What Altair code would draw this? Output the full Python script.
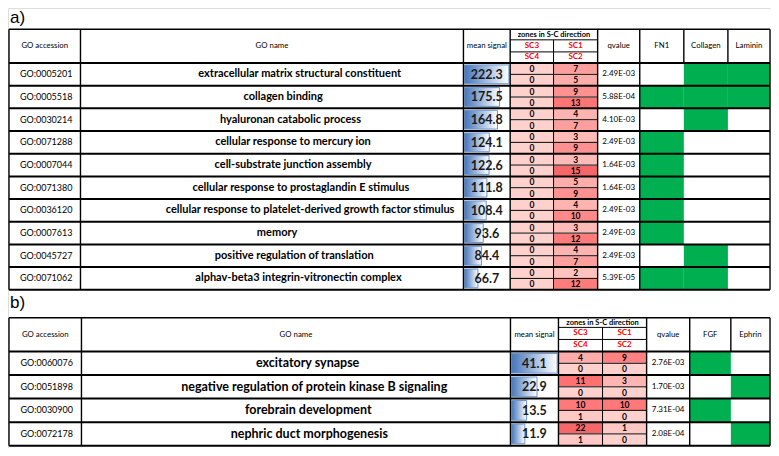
import altair as alt
import pandas as pd

# ------------------------------------------------------------------ data
# panel a)
a_acc = ["GO:0005201", "GO:0005518", "GO:0030214", "GO:0071288", "GO:0007044",
         "GO:0071380", "GO:0036120", "GO:0007613", "GO:0045727", "GO:0071062"]
a_name = ["extracellular matrix structural constituent",
          "collagen binding",
          "hyaluronan catabolic process",
          "cellular response to mercury ion",
          "cell-substrate junction assembly",
          "cellular response to prostaglandin E stimulus",
          "cellular response to platelet-derived growth factor stimulus",
          "memory",
          "positive regulation of translation",
          "alphav-beta3 integrin-vitronectin complex"]
a_mean = [222.3, 175.5, 164.8, 124.1, 122.6, 111.8, 108.4, 93.6, 84.4, 66.7]
a_sc3 = [0, 0, 0, 0, 0, 0, 0, 0, 0, 0]
a_sc1 = [7, 9, 4, 3, 3, 5, 4, 3, 4, 2]
a_sc4 = [0, 0, 0, 0, 0, 0, 0, 0, 0, 0]
a_sc2 = [5, 13, 7, 9, 15, 9, 10, 12, 7, 12]
a_q = ["2.49E-03", "5.88E-04", "4.10E-03", "2.49E-03", "1.64E-03",
       "1.64E-03", "2.49E-03", "2.49E-03", "2.49E-03", "5.39E-05"]
a_paths = ["FN1", "Collagen", "Laminin"]
a_fn1 = [0, 1, 0, 1, 1, 1, 1, 1, 0, 1]
a_collagen = [1, 1, 1, 0, 0, 0, 0, 0, 1, 1]
a_laminin = [1, 1, 0, 0, 0, 0, 0, 0, 0, 0]

# panel b)
b_acc = ["GO:0060076", "GO:0051898", "GO:0030900", "GO:0072178"]
b_name = ["excitatory synapse",
          "negative regulation of protein kinase B signaling",
          "forebrain development",
          "nephric duct morphogenesis"]
b_mean = [41.1, 22.9, 13.5, 11.9]
b_sc3 = [4, 11, 10, 22]
b_sc1 = [9, 3, 10, 1]
b_sc4 = [0, 0, 1, 1]
b_sc2 = [0, 0, 0, 0]
b_q = ["2.76E-03", "1.70E-03", "7.31E-04", "2.08E-04"]
b_paths = ["FGF", "Ephrin"]
b_fgf = [1, 0, 1, 0]
b_ephrin = [0, 1, 0, 1]

# ------------------------------------------------------------------ layout
REF_W, REF_H = 779, 456
W, H = 763, 440

panels = [
    dict(label="a)", label_y=15.5,
         cols=[1, 74, 465, 512.7, 557, 602, 645, 690, 735, 778],
         hdr=[22, 33, 45.5, 57], row_h=23.5,
         acc=a_acc, name=a_name, mean=a_mean,
         sc_top=[a_sc3, a_sc1], sc_bot=[a_sc4, a_sc2], q=a_q,
         paths=a_paths, flags=[a_fn1, a_collagen, a_laminin],
         heat_cap=15, char_w=4.8, name_shift=0.13, name_off=1.5),
    dict(label="b)", label_y=311,
         cols=[1, 75, 513, 562, 607, 652, 696, 738, 778],
         hdr=[321, 331, 343.5, 356], row_h=24.4,
         acc=b_acc, name=b_name, mean=b_mean,
         sc_top=[b_sc3, b_sc1], sc_bot=[b_sc4, b_sc2], q=b_q,
         paths=b_paths, flags=[b_fgf, b_ephrin],
         heat_cap=12, char_w=5.45, name_shift=0.04, name_off=8),
]

green, heat, bars = [], [], []
lines = {"thick": [], "mid": [], "thin": []}
texts = {k: [] for k in ["label", "hdr", "hdr_b", "hdr_red", "acc", "name_a", "name_b",
                          "mean", "sc", "q"]}

for p in panels:
    c, h, rh = p["cols"], p["hdr"], p["row_h"]
    n = len(p["acc"])
    top, hb = h[0], h[3]
    bottom = hb + n * rh
    mid = lambda a, b: (a + b) / 2
    texts["label"].append(dict(x=2, y=p["label_y"], t=p["label"]))
    # header texts
    texts["hdr"].append(dict(x=mid(c[0], c[1]), y=mid(top, hb), t="GO accession"))
    texts["hdr"].append(dict(x=mid(c[1], c[2]), y=mid(top, hb), t="GO name"))
    texts["hdr"].append(dict(x=mid(c[2], c[3]), y=mid(top, hb), t="mean signal"))
    texts["hdr_b"].append(dict(x=mid(c[3], c[5]), y=mid(h[0], h[1]), t="zones in S-C direction"))
    texts["hdr_red"].append(dict(x=mid(c[3], c[4]), y=mid(h[1], h[2]), t="SC3"))
    texts["hdr_red"].append(dict(x=mid(c[4], c[5]), y=mid(h[1], h[2]), t="SC1"))
    texts["hdr_red"].append(dict(x=mid(c[3], c[4]), y=mid(h[2], h[3]), t="SC4"))
    texts["hdr_red"].append(dict(x=mid(c[4], c[5]), y=mid(h[2], h[3]), t="SC2"))
    texts["hdr"].append(dict(x=mid(c[5], c[6]), y=mid(top, hb), t="qvalue"))
    for k, pname in enumerate(p["paths"]):
        texts["hdr"].append(dict(x=mid(c[6 + k], c[7 + k]), y=mid(top, hb), t=pname))
    mx = max(p["mean"])
    for i in range(n):
        y0 = hb + i * rh
        y1 = y0 + rh
        ym = mid(y0, y1)
        texts["acc"].append(dict(x=mid(c[0], c[1]) + 1.5, y=ym, t=p["acc"][i]))
        # the source's names sit slightly right of centre, more so when long
        est_w = len(p["name"][i]) * p["char_w"]
        texts["name_a" if p["label"] == "a)" else "name_b"].append(
            dict(x=mid(c[1], c[2]) + p["name_off"] + p["name_shift"] * est_w, y=ym, t=p["name"][i]))
        # mean signal data bar
        bw = (c[3] - c[2] - 2.5) * p["mean"][i] / mx
        bars.append(dict(x=c[2] + 1.2, x2=c[2] + 1.2 + bw, y=y0 + 2, y2=y1 - 2))
        texts["mean"].append(dict(x=mid(c[2], c[3]), y=ym + 0.5, t=f"{p['mean'][i]:.1f}"))
        # zone cells
        for j in range(2):
            for sub, arr in enumerate([p["sc_top"][j], p["sc_bot"][j]]):
                v = arr[i]
                sy0 = y0 + sub * rh / 2
                sy1 = sy0 + rh / 2
                heat.append(dict(x=c[3 + j] + 0.5, x2=c[4 + j] - 0.5, y=sy0 + 0.5, y2=sy1 - 0.5,
                                 t=min(v / p["heat_cap"], 1.0)))
                texts["sc"].append(dict(x=mid(c[3 + j], c[4 + j]), y=mid(sy0, sy1) + 0.3, t=str(v)))
        texts["q"].append(dict(x=mid(c[5], c[6]), y=ym, t=p["q"][i]))
        for k, fl in enumerate(p["flags"]):
            if fl[i]:
                green.append(dict(x=c[6 + k], x2=c[7 + k], y=y0, y2=y1))
        # lines
        lines["thick"].append(dict(x=c[0], x2=c[-1], y=y1, y2=y1))
        lines["thin"].append(dict(x=c[3], x2=c[5], y=ym, y2=ym))
    # frame + header lines
    lines["mid"].append(dict(x=c[0], x2=c[-1], y=top, y2=top))
    lines["thick"].append(dict(x=c[0], x2=c[-1], y=hb, y2=hb))
    lines["thin"].append(dict(x=c[3], x2=c[5], y=h[1], y2=h[1]))
    lines["thin"].append(dict(x=c[3], x2=c[5], y=h[2], y2=h[2]))
    lines["thin"].append(dict(x=c[4], x2=c[4], y=h[1], y2=bottom))
    for k, xv in enumerate(c):
        if k == 4:
            continue
        if k > 6 and k < len(c) - 1:
            lines["mid"].append(dict(x=xv, x2=xv, y=top, y2=hb))
        else:
            lines["mid"].append(dict(x=xv, x2=xv, y=top, y2=bottom))

# ------------------------------------------------------------------ chart
xs = alt.Scale(domain=[0, REF_W], nice=False, zero=False)
ys = alt.Scale(domain=[0, REF_H], nice=False, zero=False, reverse=True)


def X(f="x"):
    return alt.X(f"{f}:Q", scale=xs, axis=None)


def Y(f="y"):
    return alt.Y(f"{f}:Q", scale=ys, axis=None)


FONT = "Lato"

layers = []
layers.append(alt.Chart(pd.DataFrame(green)).mark_rect(color="#00b050").encode(
    x=X(), x2="x2:Q", y=Y(), y2="y2:Q"))
layers.append(alt.Chart(pd.DataFrame(heat)).mark_rect().encode(
    x=X(), x2="x2:Q", y=Y(), y2="y2:Q",
    color=alt.Color("t:Q", scale=alt.Scale(domain=[0, 1], range=["#ffffff", "#f6676a"]), legend=None)))
grad = alt.Gradient(gradient="linear",
                    stops=[alt.GradientStop(color="#4676bb", offset=0),
                           alt.GradientStop(color="#ffffff", offset=1)],
                    x1=0, x2=1, y1=0, y2=0)
layers.append(alt.Chart(pd.DataFrame(bars)).mark_rect(fill=grad, stroke="#6a95cf", strokeWidth=1).encode(
    x=X(), x2="x2:Q", y=Y(), y2="y2:Q"))

for key, sw, col in [("thin", 1, "#000000"), ("mid", 1.4, "#000000"), ("thick", 2, "#000000")]:
    layers.append(alt.Chart(pd.DataFrame(lines[key])).mark_rule(strokeWidth=sw, color=col).encode(
        x=X(), x2="x2:Q", y=Y(), y2="y2:Q"))

styles = {
    "label": dict(font="Liberation Sans", fontSize=17, align="left", baseline="alphabetic"),
    "hdr": dict(font=FONT, fontSize=7.8, align="center", baseline="middle"),
    "hdr_b": dict(font=FONT, fontSize=7.5, fontWeight="bold", align="center", baseline="middle"),
    "hdr_red": dict(font=FONT, fontSize=8, fontWeight="bold", color="#ff0000", align="center", baseline="middle"),
    "acc": dict(font=FONT, fontSize=9, align="center", baseline="middle"),
    "name_a": dict(font=FONT, fontSize=11, fontWeight="bold", align="center", baseline="middle"),
    "name_b": dict(font=FONT, fontSize=12.5, fontWeight="bold", align="center", baseline="middle"),
    "mean": dict(font=FONT, fontSize=12.5, fontWeight="bold", align="center", baseline="middle", color="#1a1a1a"),
    "sc": dict(font=FONT, fontSize=8.5, fontWeight="bold", align="center", baseline="middle"),
    "q": dict(font=FONT, fontSize=8, align="center", baseline="middle"),
}
for key, st in styles.items():
    st = dict(st)
    st.setdefault("color", "#000000")
    layers.append(alt.Chart(pd.DataFrame(texts[key])).mark_text(**st).encode(
        x=X(), y=Y(), text="t:N"))

chart = alt.layer(*layers).properties(
    width=W, height=H, padding=0, autosize=alt.AutoSizeParams(type="none")
).configure_view(stroke=None).configure(background="#ffffff")

chart.save("out.html", embed_options={"renderer": "svg", "actions": False})
